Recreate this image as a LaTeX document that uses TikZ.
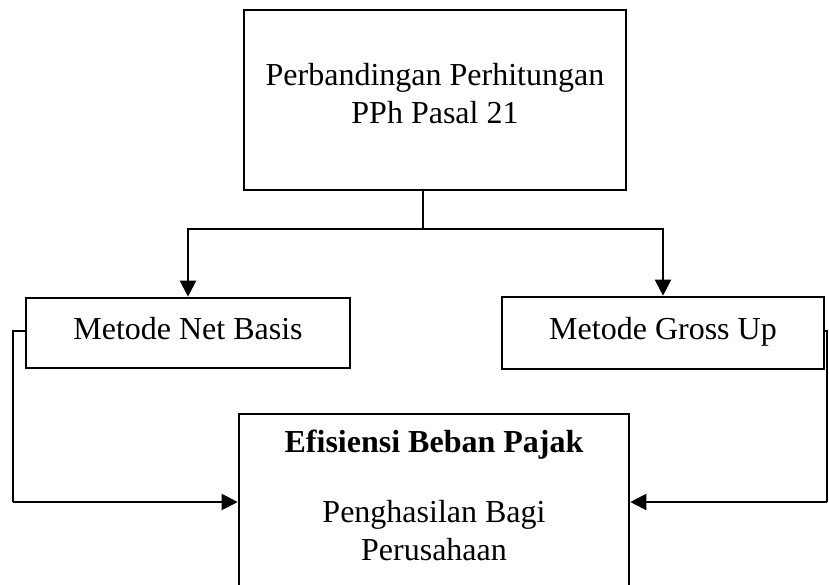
\documentclass[tikz,border=0pt]{standalone}
\usepackage{fontspec}
\setmainfont{Liberation Serif}
\usetikzlibrary{arrows.meta}
\tikzset{
  box/.style={draw, line width=1.3pt, inner sep=0pt, align=center},
  method/.style={box, text height=0.8em, text depth=0.18em},
  conn/.style={line width=1pt},
  arrow/.style={conn, -{Triangle[length=8pt,width=8pt]}},
  stem/.style={line width=0.7pt}
}
\begin{document}
\begin{tikzpicture}[x=0.5pt, y=-0.5pt, font=\fontsize{16}{19}\selectfont]
  \useasboundingbox (0,0) rectangle (829,584);
  \clip (0,0) rectangle (829,584);

  % Top box
  \node[box, minimum width=191pt, minimum height=90pt] (pph) at (435,100) {};
  \node[align=center] (pphtxt) at (435,94) {Perbandingan Perhitungan\\PPh Pasal 21};

  % Methods
  \node[method, minimum width=162pt, minimum height=35pt] (net) at (188,333) {Metode Net Basis};
  \node[method, minimum width=161pt, minimum height=36pt] (gross) at (663,333) {Metode Gross Up};

  % Result box (runs past the bottom edge)
  \node[box, minimum width=195pt, minimum height=105pt] (eff) at (434,519) {};
  \node[font=\fontsize{16}{19}\selectfont\bfseries] (effttl) at (434,445) {Efisiensi Beban Pajak};
  \node[align=center] (efftxt) at (434,531) {Penghasilan Bagi\\Perusahaan};

  % Split from top box
  \coordinate (split) at (423,229);
  \draw[stem] (pph.south -| split) -- (split);
  \draw[arrow] (split) -| (net.north);
  \draw[arrow] (split) -| (gross.north);

  % Side connectors into result box
  \coordinate (lbend) at (13,331);
  \coordinate (lbot) at (13,502);
  \coordinate (rbend) at (827,331);
  \coordinate (rbot) at (827,502);
  \draw[conn] (net.west |- lbend) -- (lbend) -- (lbot);
  \draw[arrow] (lbot) -- (eff.west |- lbot);
  \draw[conn] (gross.east |- rbend) -- (rbend) -- (rbot);
  \draw[arrow] (rbot) -- (eff.east |- rbot);
\end{tikzpicture}
\end{document}
